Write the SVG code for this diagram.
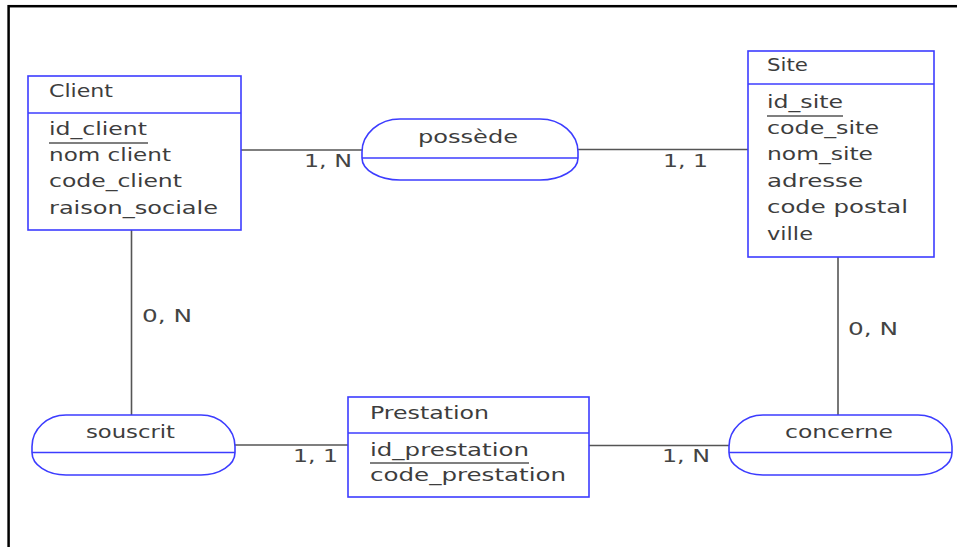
<svg xmlns="http://www.w3.org/2000/svg" width="957" height="547" viewBox="0 0 957 547">
  <style>
    .frame { fill: none; stroke: #000; stroke-width: 2.5; }
    .entity { fill: #fff; stroke: #3c3cff; stroke-width: 1.6; }
    .sep { stroke: #3c3cff; stroke-width: 1.6; fill: none; }
    .link { stroke: #555; stroke-width: 1.6; fill: none; }
    .ul { stroke: #555; stroke-width: 1.3; fill: none; }
    text { font-family: "DejaVu Sans", Verdana, sans-serif; font-size: 18px; fill: #3d3d3d; }
    .card { fill: #444; }
  </style>

  <rect width="957" height="547" fill="#fff"/>
  <!-- page frame (only top and left edges fall inside the view) -->
  <rect class="frame" x="8.6" y="6.2" width="1000" height="1000"/>

  <!-- connectors with cardinalities -->
  <g id="connectors">
    <path class="link" d="M241,150 H362"/>
    <path class="link" d="M578,149.5 H748"/>
    <path class="link" d="M131.5,230 V415"/>
    <path class="link" d="M838,257 V415"/>
    <path class="link" d="M235,445 H348"/>
    <path class="link" d="M589,445.5 H729"/>
    <text class="card" x="304" y="167" textLength="48" lengthAdjust="spacingAndGlyphs">1, N</text>
    <text class="card" x="663" y="167" textLength="45" lengthAdjust="spacingAndGlyphs">1, 1</text>
    <text class="card" x="142" y="322" textLength="50" lengthAdjust="spacingAndGlyphs">0, N</text>
    <text class="card" x="848" y="335" textLength="50" lengthAdjust="spacingAndGlyphs">0, N</text>
    <text class="card" x="293" y="462" textLength="45" lengthAdjust="spacingAndGlyphs">1, 1</text>
    <text class="card" x="662" y="462" textLength="48" lengthAdjust="spacingAndGlyphs">1, N</text>
  </g>

  <!-- entity Client -->
  <g id="client">
    <rect class="entity" x="28" y="76" width="213" height="154"/>
    <path class="sep" d="M28,113 H241"/>
    <text x="49" y="97" textLength="64" lengthAdjust="spacingAndGlyphs">Client</text>
    <text x="49" y="135" textLength="98" lengthAdjust="spacingAndGlyphs">id_client</text>
    <path class="ul" d="M49,143 H148"/>
    <text x="49" y="161" textLength="122" lengthAdjust="spacingAndGlyphs">nom client</text>
    <text x="49" y="187" textLength="133" lengthAdjust="spacingAndGlyphs">code_client</text>
    <text x="49" y="214" textLength="169" lengthAdjust="spacingAndGlyphs">raison_sociale</text>
  </g>

  <!-- entity Site -->
  <g id="site">
    <rect class="entity" x="748" y="51" width="186" height="206"/>
    <path class="sep" d="M748,84 H934"/>
    <text x="767" y="71" textLength="41" lengthAdjust="spacingAndGlyphs">Site</text>
    <text x="767" y="108" textLength="76" lengthAdjust="spacingAndGlyphs">id_site</text>
    <path class="ul" d="M767,116 H843"/>
    <text x="767" y="134" textLength="112" lengthAdjust="spacingAndGlyphs">code_site</text>
    <text x="767" y="160" textLength="106" lengthAdjust="spacingAndGlyphs">nom_site</text>
    <text x="767" y="187" textLength="96" lengthAdjust="spacingAndGlyphs">adresse</text>
    <text x="767" y="213" textLength="141" lengthAdjust="spacingAndGlyphs">code postal</text>
    <text x="767" y="240" textLength="46" lengthAdjust="spacingAndGlyphs">ville</text>
  </g>

  <!-- entity Prestation -->
  <g id="prestation">
    <rect class="entity" x="348" y="397" width="241" height="100"/>
    <path class="sep" d="M348,433 H589"/>
    <text x="370" y="419" textLength="119" lengthAdjust="spacingAndGlyphs">Prestation</text>
    <text x="370" y="456" textLength="159" lengthAdjust="spacingAndGlyphs">id_prestation</text>
    <path class="ul" d="M370,463 H529"/>
    <text x="370" y="481" textLength="196" lengthAdjust="spacingAndGlyphs">code_prestation</text>
  </g>

  <!-- association possède -->
  <g id="possede">
    <path class="entity" d="M400,119 H540 A38,33 0 0 1 578,152 V158 A38,22 0 0 1 540,180 H400 A38,22 0 0 1 362,158 V152 A38,33 0 0 1 400,119 Z"/>
    <path class="sep" d="M362,158 H578"/>
    <text x="418" y="143" textLength="100" lengthAdjust="spacingAndGlyphs">possède</text>
  </g>

  <!-- association souscrit -->
  <g id="souscrit">
    <path class="entity" d="M66,415 H201 A34,31.5 0 0 1 235,446.5 V452.5 A34,22.5 0 0 1 201,475 H66 A34,22.5 0 0 1 32,452.5 V446.5 A34,31.5 0 0 1 66,415 Z"/>
    <path class="sep" d="M32,452.5 H235"/>
    <text x="86" y="438" textLength="89" lengthAdjust="spacingAndGlyphs">souscrit</text>
  </g>

  <!-- association concerne -->
  <g id="concerne">
    <path class="entity" d="M763,415 H918 A34,31.5 0 0 1 952,446.5 V452.5 A34,22.5 0 0 1 918,475 H763 A34,22.5 0 0 1 729,452.5 V446.5 A34,31.5 0 0 1 763,415 Z"/>
    <path class="sep" d="M729,452.5 H952"/>
    <text x="785" y="438" textLength="108" lengthAdjust="spacingAndGlyphs">concerne</text>
  </g>
</svg>
